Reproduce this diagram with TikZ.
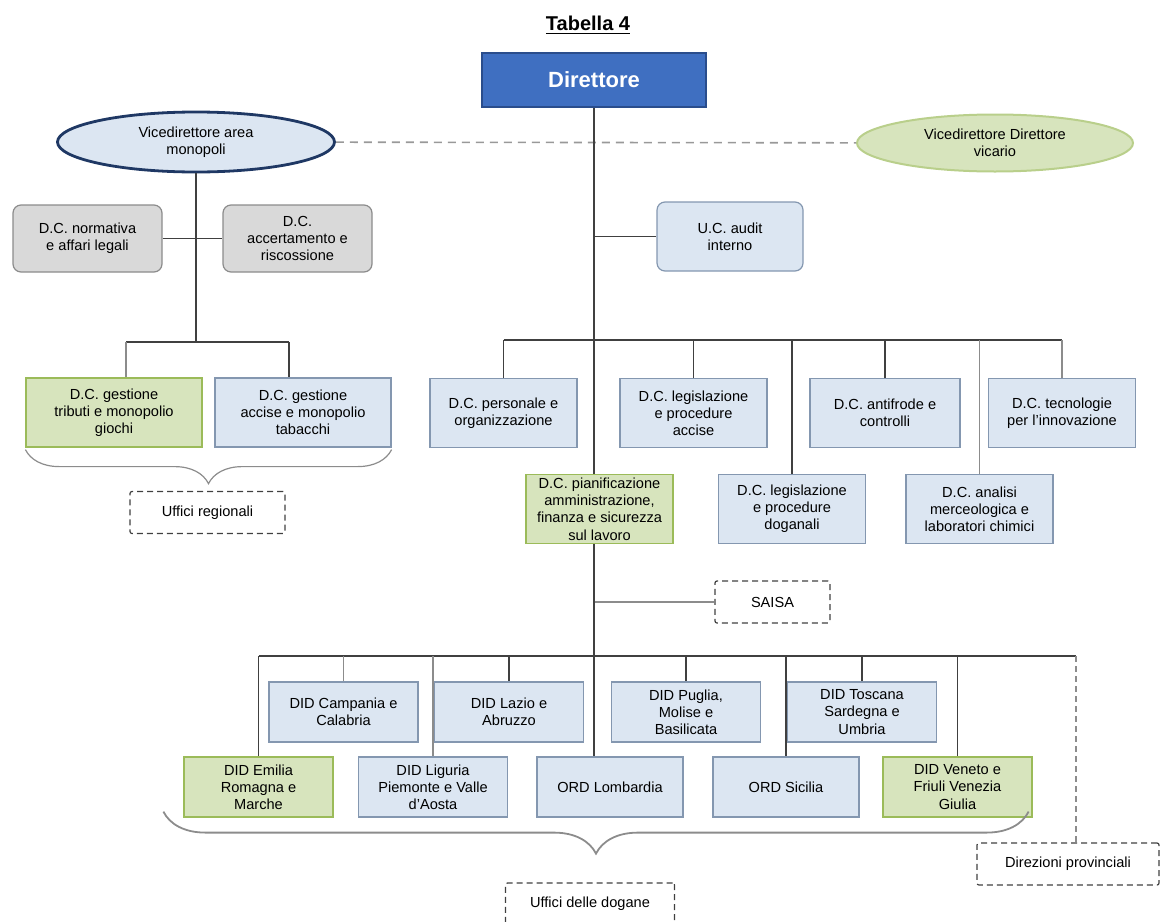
\documentclass[tikz,border=0pt]{standalone}
\usepackage{fontspec}
\setmainfont{Liberation Sans}
\usetikzlibrary{shapes.geometric,decorations.pathreplacing}

\definecolor{dirblue}{HTML}{3F6FC1}
\definecolor{dirline}{HTML}{2A4D8C}
\definecolor{paleblue}{HTML}{DCE6F2}
\definecolor{blueline}{HTML}{8497B0}
\definecolor{palegreen}{HTML}{D7E4BD}
\definecolor{greenline}{HTML}{9BBB59}
\definecolor{palegray}{HTML}{D9D9D9}
\definecolor{grayline}{HTML}{8C8C8C}
\definecolor{navy}{HTML}{1F3864}

\begin{document}
\begin{tikzpicture}[x=0.5pt,y=-0.5pt,font=\fontsize{7.3}{8.6}\selectfont]
  \tikzstyle{unit}=[draw=blueline,fill=paleblue,line width=0.6pt,align=center,inner sep=1pt,minimum width=73.5pt,minimum height=34.5pt]
  \tikzstyle{greenunit}=[unit,draw=greenline,fill=palegreen]
  \tikzstyle{grayunit}=[unit,draw=grayline,fill=palegray,rounded corners=4pt]
  \tikzstyle{district}=[unit,minimum width=74.5pt,minimum height=30pt]
  \tikzstyle{office}=[draw=black!75,dash pattern=on 3pt off 2pt,line width=0.6pt,rounded corners=1pt,minimum height=21pt,align=center]
  \tikzstyle{link}=[draw=black!75,line width=0.6pt]
  \tikzstyle{faint}=[draw=black!45,line width=0.6pt]

  \useasboundingbox (0,0) rectangle (1160,921);

  % top
  \node (title) at (588,25) {\fontsize{10}{12}\selectfont\bfseries\underline{Tabella 4}};
  \node[draw=dirline,fill=dirblue,line width=1pt,minimum width=112pt,minimum height=27pt,text=white,font=\fontsize{11}{13}\selectfont\bfseries] (dir) at (594,80) {Direttore};

  \node[ellipse,draw=navy,line width=1.4pt,fill=paleblue,inner sep=0pt,minimum width=138.5pt,minimum height=30pt,align=center] (vicemon) at (196,142) {Vicedirettore area\\monopoli};
  \node[ellipse,draw=greenline!70,line width=1pt,fill=palegreen,inner sep=0pt,minimum width=138pt,minimum height=28.5pt,align=center] (vicevic) at (995,143) {Vicedirettore Direttore\\vicario};
  \draw[black!40,line width=0.8pt,dash pattern=on 4pt off 3pt] (vicemon) -- (vicevic);

  % area monopoli
  \node[grayunit,minimum width=74.5pt,minimum height=33.5pt] (normativa) at (87.5,238.5) {D.C. normativa\\e affari legali};
  \node[grayunit,minimum width=74.5pt,minimum height=33.5pt] (accert) at (297.5,238.5) {D.C.\\accertamento e\\riscossione};
  \node[greenunit,minimum width=88pt] (tributi) at (114,412.5) {D.C. gestione\\tributi e monopolio\\giochi};
  \node[unit,minimum width=88pt] (accise) at (303,412.5) {D.C. gestione\\accise e monopolio\\tabacchi};
  \node[office,minimum width=77.5pt] (uffreg) at (207.5,512.5) {Uffici regionali};

  \coordinate (lbus) at (196,342);
  \draw[link] (vicemon.south) -- (lbus);
  \draw[link] (normativa.east) -- (accert.west);
  \draw[link] (126,342) coordinate (lbusA) -- (289,342) coordinate (lbusB);
  \draw[faint] (lbusA) -- (lbusA |- tributi.north);
  \draw[link] (lbusB) -- (lbusB |- accise.north);
  \draw[faint,decorate,decoration={brace,amplitude=17pt}] ([yshift=-1pt]accise.south east) -- ([yshift=-1pt]tributi.south west);

  % direzioni centrali
  \node[unit,rounded corners=4pt,minimum width=73pt] (audit) at (730,236.5) {U.C. audit\\interno};
  \node[unit] (personale) at (503.5,413) {D.C. personale e\\organizzazione};
  \node[unit] (legacc) at (693.5,413) {D.C. legislazione\\e procedure\\accise};
  \node[unit,minimum width=75pt] (antifrode) at (885,413) {D.C. antifrode e\\controlli};
  \node[unit] (tecnologie) at (1062,413) {D.C. tecnologie\\per l'innovazione};
  \node[greenunit] (pianif) at (599.5,509) {D.C. pianificazione\\amministrazione,\\finanza e sicurezza\\sul lavoro};
  \node[unit] (legdog) at (792,509) {D.C. legislazione\\e procedure\\doganali};
  \node[unit] (analisi) at (979.5,509) {D.C. analisi\\merceologica e\\laboratori chimici};
  \node[office,minimum width=57.5pt] (saisa) at (772.5,602) {SAISA};

  \coordinate (mbus) at (594,340);
  \draw[link] (dir.south) -- (dir.south |- pianif.north);
  \draw[link] (dir.south |- audit.west) -- (audit.west);
  \draw[link] (personale.north |- mbus) -- (tecnologie.north |- mbus);
  \foreach \n in {personale,legacc,legdog,antifrode}
    \draw[link] (\n.north |- mbus) -- (\n.north);
  \foreach \n in {analisi,tecnologie}
    \draw[faint] (\n.north |- mbus) -- (\n.north);
  \draw[faint] (dir.south |- saisa.west) -- (saisa.west);

  % direzioni territoriali
  \node[district] (campania) at (343.5,712) {DID Campania e\\Calabria};
  \node[district] (lazio) at (509,712) {DID Lazio e\\Abruzzo};
  \node[district] (puglia) at (686,712) {DID Puglia,\\Molise e\\Basilicata};
  \node[district] (toscana) at (862,712) {DID Toscana\\Sardegna e\\Umbria};
  \node[district,draw=greenline,fill=palegreen] (emilia) at (258.5,787) {DID Emilia\\Romagna e\\Marche};
  \node[district] (liguria) at (433,787) {DID Liguria\\Piemonte e Valle\\d'Aosta};
  \node[district,minimum width=73pt] (lombardia) at (610,787) {ORD Lombardia};
  \node[district,minimum width=73pt] (sicilia) at (786,787) {ORD Sicilia};
  \node[district,draw=greenline,fill=palegreen] (veneto) at (957.5,787) {DID Veneto e\\Friuli Venezia\\Giulia};
  \node[office,minimum width=84.5pt] (uffdog) at (590,904) {Uffici delle dogane};
  \node[office,minimum width=91pt] (dirprov) at (1068,864) {Direzioni provinciali};

  \coordinate (bbus) at (594,656);
  \coordinate (bbusEnd) at (1076,656);
  \draw[link] (dir.south |- pianif.south) -- (dir.south |- lombardia.north);
  \draw[link] (emilia.north |- bbus) -- (bbusEnd);
  \foreach \n in {emilia,lazio,puglia,sicilia,toscana,veneto}
    \draw[link] (\n.north |- bbus) -- (\n.north);
  \foreach \n in {campania,liguria}
    \draw[faint] (\n.north |- bbus) -- (\n.north);
  \draw[faint,dash pattern=on 3pt off 2pt] (bbusEnd) -- (bbusEnd |- dirprov.north);
  \draw[faint,line width=0.9pt,decorate,decoration={brace,amplitude=21pt}] ([xshift=-2pt,yshift=3pt]veneto.south east) -- ([xshift=-10pt,yshift=3pt]emilia.south west);

\end{tikzpicture}
\end{document}
